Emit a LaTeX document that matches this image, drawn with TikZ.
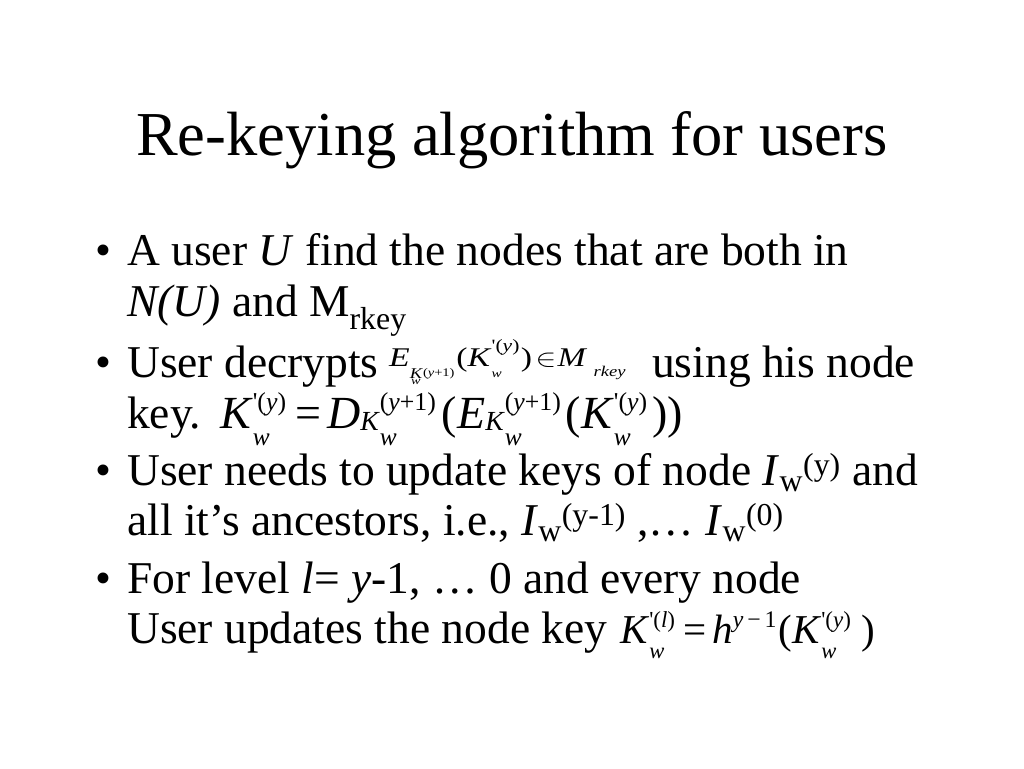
\documentclass[tikz,border=0pt]{standalone}
\usepackage{graphicx}
\usepackage{fontspec}
\setmainfont{Liberation Serif}
% base symbol with stacked sub- and superscript, compact layout (text mode)
\newcommand\ssx[3]{#1\rlap{\raisebox{-0.37em}[0pt][0pt]{\scalebox{0.55}{#2}}}\raisebox{0.38em}{\scalebox{0.56}{#3}}}
\newcommand\subk{\raisebox{-0.06em}{\scalebox{0.6}{\textit{K}}}}
\newcommand\pq{\textquotesingle}
\newcommand\iK{\textit{K}}
\newcommand\iw{\textit{w}}
\newcommand\iy{\textit{y}}
\begin{document}
\begin{tikzpicture}[x=1pt,y=-1pt,
  txt/.style={anchor=base west, inner sep=0pt, font=\fontsize{45.5}{50}\selectfont},
  ttl/.style={anchor=base, inner sep=0pt, font=\fontsize{62.5}{70}\selectfont},
  fsmall/.style={anchor=base west, inner sep=0pt, font=\fontsize{27}{30}\selectfont},
  fbig/.style={anchor=base west, inner sep=0pt, font=\fontsize{46}{50}\selectfont},
  fmid/.style={anchor=base west, inner sep=0pt, font=\fontsize{41}{46}\selectfont}]
\useasboundingbox (0,0) rectangle (1024,768);
\fill[white] (0,0) rectangle (1024,768);
\node[ttl] (title) at (512,155) {Re-keying algorithm for users};
% bullet 1
\node[txt] (b1) at (95,265) {•};
\node[txt] (l1a) at (127,265) {A user \textit{U} find the nodes that are both in};
\node[txt] (l1b) at (127,316) {\textit{N(U)} and M\textsubscript{rkey}};
% bullet 2
\node[txt] (b2) at (95,377) {•};
\node[txt] (l2a) at (127,377) {User decrypts};
\node[fsmall] (f1) at (389,366) {\scalebox{1.25}[1]{\textit{E}\rlap{\raisebox{-0.7em}[0pt][0pt]{\hspace{1pt}\scalebox{0.42}{\iw}}}\raisebox{-0.45em}[0pt][0pt]{\scalebox{0.55}{\iK}}\raisebox{-0.38em}[0pt][0pt]{\scalebox{0.43}{(\iy+1)}}\hspace{1.5pt}(\iK\rlap{\raisebox{-0.42em}[0pt][0pt]{\scalebox{0.45}{\iw}}}\raisebox{0.55em}{\scalebox{0.64}{\pq(\iy)}}\hspace{1pt})\hspace{3pt}$\in$\hspace{1pt}\textit{M}\hspace{5pt}\raisebox{-0.38em}[0pt][0pt]{\scalebox{0.55}{\textit{rkey}}}}};
\node[txt] (l2b) at (652,377) {using his node};
\node[txt] (l2c) at (127,428) {key.};
\node[fbig] (f2) at (220,428) {\ssx{\iK}{\iw}{\pq(\iy)}\hspace{9pt}=\hspace{6pt}\textit{D}\subk\ssx{}{\iw}{(\iy+1)}\hspace{6pt}(\textit{E}\subk\ssx{}{\iw}{(\iy+1)}\hspace{5pt}(\ssx{\iK}{\iw}{\pq(\iy)}\hspace{5pt}))};
% bullet 3
\node[txt] (b3) at (95,485) {•};
\node[txt] (l3a) at (127,485) {User needs to update keys of node \textit{I}\textsubscript{w}\textsuperscript{(y)} and};
\node[txt] (l3b) at (127,535) {all it’s ancestors, i.e., \textit{I}\textsubscript{w}\textsuperscript{(y-1)} ,… \textit{I}\textsubscript{w}\textsuperscript{(0)}};
% bullet 4
\node[txt] (b4) at (95,593) {•};
\node[txt] (l4a) at (127,593) {For level \textit{l}= \textit{y}-1, … 0 and every node};
\node[txt] (l4b) at (127,643) {User updates the node key};
\node[fmid] (f3) at (620,643) {\ssx{\iK}{\iw}{\pq(\textit{l})}\hspace{8pt}=\hspace{6pt}\textit{h}\raisebox{0.38em}{\scalebox{0.58}{\iy\,−\,1}}\hspace{2pt}(\ssx{\iK}{\iw}{\pq(\iy)}\hspace{11pt})};
\end{tikzpicture}
\end{document}
